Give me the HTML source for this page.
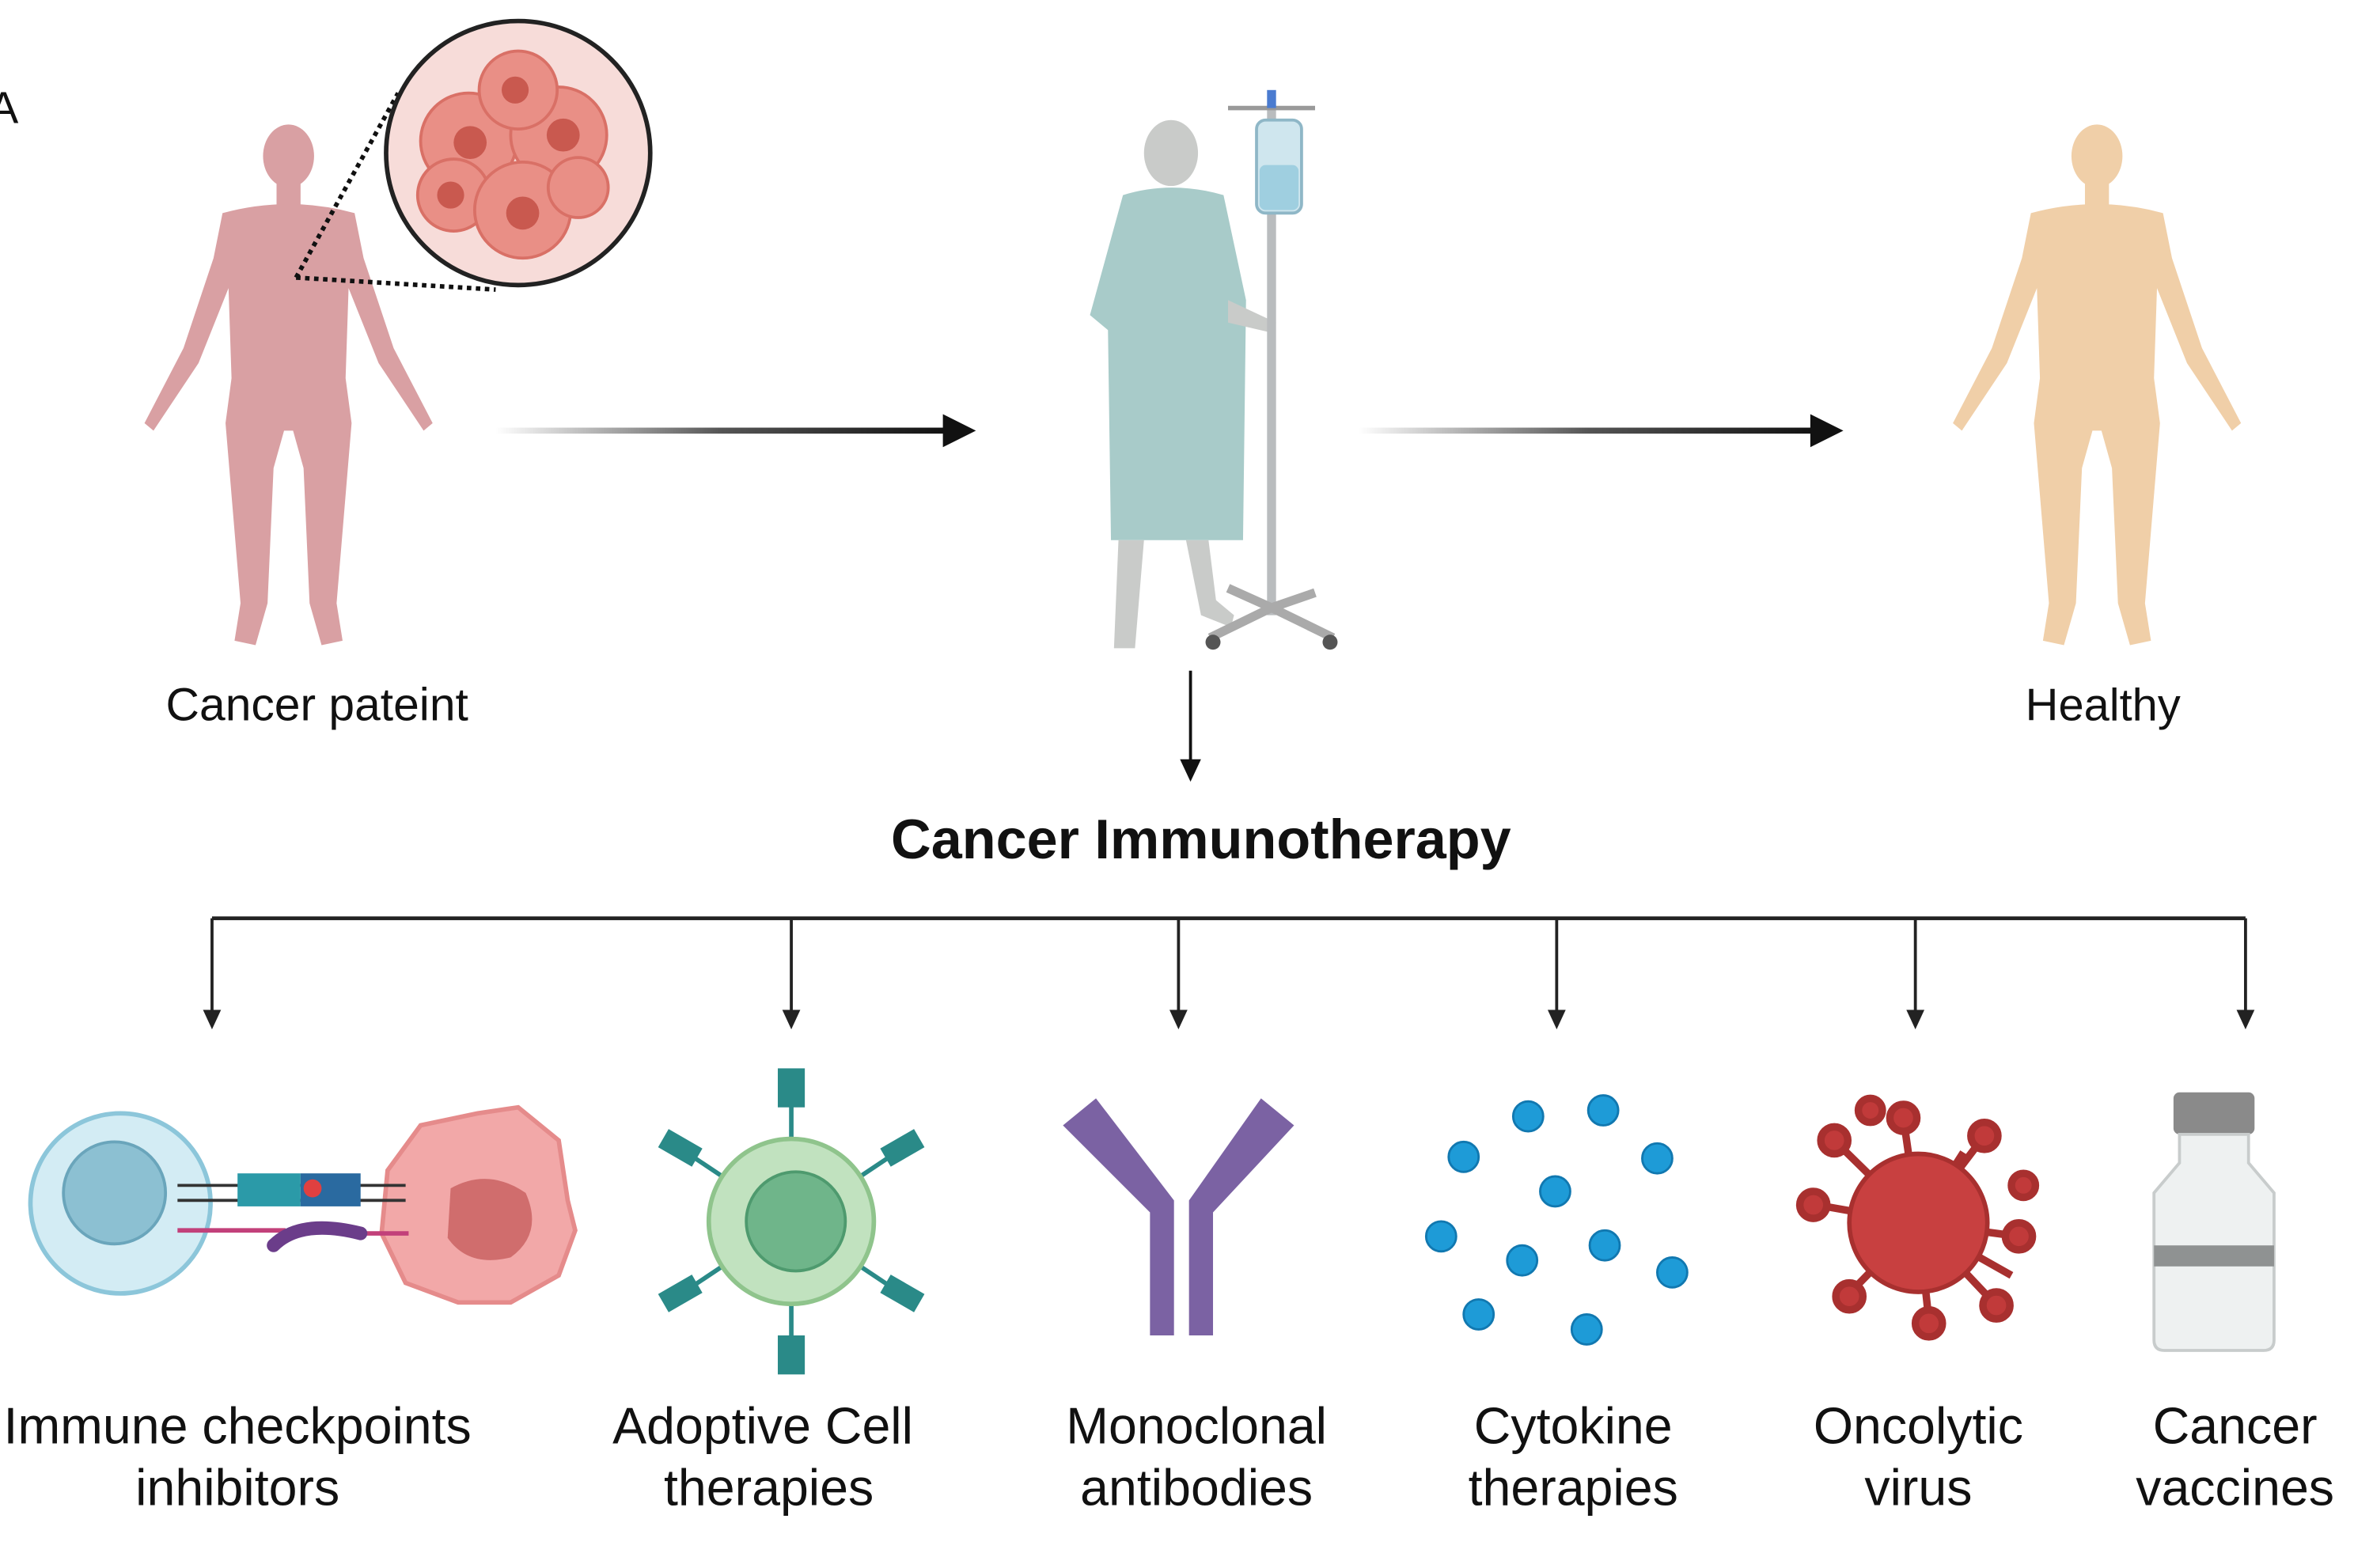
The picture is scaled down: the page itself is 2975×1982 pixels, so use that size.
<!DOCTYPE html>
<html><head><meta charset="utf-8"><style>
html,body{margin:0;padding:0;background:#fff;}
svg{display:block;}
text{font-family:"Liberation Sans",Arial,sans-serif;fill:#111;}
</style></head><body>
<svg width="2975" height="1982" viewBox="0 0 1568 1045" xmlns="http://www.w3.org/2000/svg">
<defs>
<linearGradient id="ag" x1="0" x2="1"><stop offset="0" stop-color="#fff"/><stop offset="0.5" stop-color="#555"/><stop offset="1" stop-color="#111"/></linearGradient>
<g id="human">
<ellipse cx="0" cy="22" rx="17" ry="21"/>
<rect x="-8" y="38" width="16" height="18"/>
<path d="M-44,60 Q0,48 44,60 L50,90 L70,150 L96,200 L90,205 L60,160 L40,110 L38,170 L42,200 L32,320 L36,345 L22,348 L14,320 L10,230 L3,205 L-3,205 L-10,230 L-14,320 L-22,348 L-36,345 L-32,320 L-42,200 L-38,170 L-40,110 L-60,160 L-90,205 L-96,200 L-70,150 L-50,90 Z"/>
</g>
</defs>
<text x="-8" y="82" font-size="30">A</text>
<g fill="#d9a0a3"><use href="#human" transform="translate(192,82)"/></g>
<path d="M197,185 L265,62 M197,185 L330,193" stroke="#111" stroke-width="3" stroke-dasharray="3,3" fill="none"/>
<circle cx="345" cy="102" r="88" fill="#f7dcd9" stroke="#222" stroke-width="3"/>
<g fill="#e98f86" stroke="#d97066" stroke-width="2">
<circle cx="312" cy="94" r="32"/><circle cx="372" cy="90" r="32"/><circle cx="345" cy="60" r="26"/><circle cx="302" cy="130" r="24"/><circle cx="348" cy="140" r="32"/><circle cx="385" cy="125" r="20"/>
</g>
<g fill="#c9594f"><circle cx="313" cy="95" r="11"/><circle cx="375" cy="90" r="11"/><circle cx="343" cy="60" r="9"/><circle cx="300" cy="130" r="9"/><circle cx="348" cy="142" r="11"/></g>
<rect x="330" y="285" width="300" height="4" fill="url(#ag)"/>
<path d="M628,276 L650,287 L628,298 Z" fill="#111"/>
<rect x="905" y="285" width="305" height="4" fill="url(#ag)"/>
<path d="M1206,276 L1228,287 L1206,298 Z" fill="#111"/>
<ellipse cx="780" cy="102" rx="18" ry="22" fill="#c9cbc9"/>
<path d="M748,130 Q780,120 815,130 L830,200 L828,360 L740,360 L738,220 L726,210 Z" fill="#a8cbc9"/>
<path d="M818,200 L850,215 L848,222 L818,215 Z" fill="#c9cbc9"/>
<path d="M745,360 L742,432 L756,432 L762,360 Z M790,360 L800,410 L820,418 L822,410 L810,400 L805,360 Z" fill="#c9cbc9"/>
<rect x="844" y="70" width="6" height="340" fill="#b9bcbe"/>
<path d="M818,72 L876,72" stroke="#999" stroke-width="3"/>
<rect x="837" y="80" width="30" height="62" rx="6" fill="#cfe6ee" stroke="#8fb7c7" stroke-width="2"/>
<rect x="839" y="110" width="26" height="30" rx="4" fill="#9fcfe0"/>
<rect x="844" y="60" width="6" height="12" fill="#4a7bd0"/>
<path d="M806,425 L847,405 L888,425 M818,392 L847,405 L876,395" stroke="#aaa" stroke-width="6" fill="none"/>
<g fill="#555"><circle cx="808" cy="428" r="5"/><circle cx="886" cy="428" r="5"/></g>
<g fill="#f0cfa8"><use href="#human" transform="translate(1397,82)"/></g>
<text x="211" y="480" font-size="31" text-anchor="middle">Cancer pateint</text>
<text x="1401" y="480" font-size="30.5" text-anchor="middle">Healthy</text>
<path d="M793,447 L793,512" stroke="#111" stroke-width="2"/>
<path d="M786,506 L793,521 L800,506 Z" fill="#111"/>
<text x="800" y="572" font-size="37" font-weight="bold" text-anchor="middle">Cancer Immunotherapy</text>
<path d="M141,612 L1496,612" stroke="#222" stroke-width="2.5"/>
<g stroke="#222" stroke-width="2">
<path d="M141,612V678M527,612V678M785,612V678M1037,612V678M1276,612V678M1496,612V678"/></g>
<g fill="#222">
<path d="M135,673L141,686L147,673Z"/><path d="M521,673L527,686L533,673Z"/><path d="M779,673L785,686L791,673Z"/><path d="M1031,673L1037,686L1043,673Z"/><path d="M1270,673L1276,686L1282,673Z"/><path d="M1490,673L1496,686L1502,673Z"/></g>
<circle cx="80" cy="802" r="60" fill="#d3ecf4" stroke="#8cc6da" stroke-width="3"/>
<circle cx="76" cy="795" r="34" fill="#8cc0d2" stroke="#6aa5bb" stroke-width="2"/>
<path d="M318,742 L345,738 L372,760 L378,800 L383,820 L372,850 L340,868 L305,868 L270,855 L254,822 L258,780 L280,750 Z" fill="#f2a8a8" stroke="#e58b8b" stroke-width="3"/>
<path d="M300,792 Q325,778 350,795 Q362,822 340,838 Q312,845 298,825 Z" fill="#d06d6d"/>
<path d="M118,790 L270,790 M118,800 L270,800" stroke="#333" stroke-width="2"/>
<rect x="158" y="782" width="42" height="22" fill="#2b9aa8"/><rect x="200" y="782" width="40" height="22" fill="#2a6aa0"/>
<circle cx="208" cy="792" r="6" fill="#e04040"/>
<path d="M118,820 L190,820 M240,822 L272,822" stroke="#c2407a" stroke-width="3"/>
<path d="M182,830 Q200,812 240,822" stroke="#6b3d8a" stroke-width="9" fill="none" stroke-linecap="round"/>
<g stroke="#2a8a88" stroke-width="3" fill="none">
<path d="M527,760V725M527,870V905M490,790L460,770M564,790L594,770M490,838L460,858M564,838L594,858"/></g>
<g fill="#2a8a88"><rect x="518" y="712" width="18" height="26"/><rect x="518" y="890" width="18" height="26"/>
<rect x="440" y="758" width="26" height="14" transform="rotate(30 453 765)"/><rect x="588" y="758" width="26" height="14" transform="rotate(-30 601 765)"/>
<rect x="440" y="855" width="26" height="14" transform="rotate(-30 453 862)"/><rect x="588" y="855" width="26" height="14" transform="rotate(30 601 862)"/></g>
<circle cx="527" cy="814" r="55" fill="#c1e2bf" stroke="#8fc48c" stroke-width="3"/>
<circle cx="530" cy="814" r="33" fill="#6fb58a" stroke="#4e9a6e" stroke-width="2"/>
<g fill="#7b62a3"><path d="M708,750 L730,732 L782,800 L782,890 L766,890 L766,808 Z"/><path d="M862,750 L840,732 L792,800 L792,890 L808,890 L808,808 Z"/></g>
<g fill="#1e9bd7" stroke="#1178b0" stroke-width="1.5">
<circle cx="1018" cy="744" r="10"/><circle cx="1068" cy="740" r="10"/><circle cx="975" cy="771" r="10"/><circle cx="1104" cy="772" r="10"/><circle cx="1036" cy="794" r="10"/><circle cx="960" cy="824" r="10"/><circle cx="1069" cy="830" r="10"/><circle cx="1014" cy="840" r="10"/><circle cx="1114" cy="848" r="10"/><circle cx="985" cy="876" r="10"/><circle cx="1057" cy="886" r="10"/></g>
<g stroke="#a8302f" stroke-width="5" fill="#c13a3a">
<path d="M1278,815 L1268,745 M1278,815 L1322,757 M1278,815 L1345,824 M1278,815 L1330,870 M1278,815 L1285,880 M1278,815 L1232,862 M1278,815 L1210,803 M1278,815 L1224,762 M1278,815 L1308,768 M1278,815 L1340,850"/>
<circle cx="1268" cy="745" r="9"/><circle cx="1322" cy="757" r="9"/><circle cx="1345" cy="824" r="9"/><circle cx="1330" cy="870" r="9"/><circle cx="1285" cy="882" r="9"/><circle cx="1232" cy="864" r="9"/><circle cx="1208" cy="803" r="9"/><circle cx="1222" cy="760" r="9"/><circle cx="1348" cy="790" r="8"/><circle cx="1246" cy="740" r="8"/></g>
<circle cx="1278" cy="815" r="46" fill="#c84040" stroke="#a8302f" stroke-width="3"/>
<rect x="1448" y="728" width="54" height="28" rx="4" fill="#8a8a8a"/>
<path d="M1452,756 L1498,756 L1498,775 L1515,795 L1515,893 Q1515,900 1508,900 L1442,900 Q1435,900 1435,893 L1435,795 L1452,775 Z" fill="#eef1f1" stroke="#c8cccc" stroke-width="2"/>
<rect x="1435" y="830" width="80" height="14" fill="#8f9292"/>
<g font-size="34" text-anchor="middle">
<text x="158" y="962">Immune checkpoints</text><text x="158" y="1003">inhibitors</text>
<text x="508" y="962">Adoptive Cell</text><text x="512" y="1003">therapies</text>
<text x="797" y="962">Monoclonal</text><text x="797" y="1003">antibodies</text>
<text x="1048" y="962">Cytokine</text><text x="1048" y="1003">therapies</text>
<text x="1278" y="962">Oncolytic</text><text x="1278" y="1003">virus</text>
<text x="1489" y="962">Cancer</text><text x="1489" y="1003">vaccines</text>
</g>
</svg>
</body></html>
